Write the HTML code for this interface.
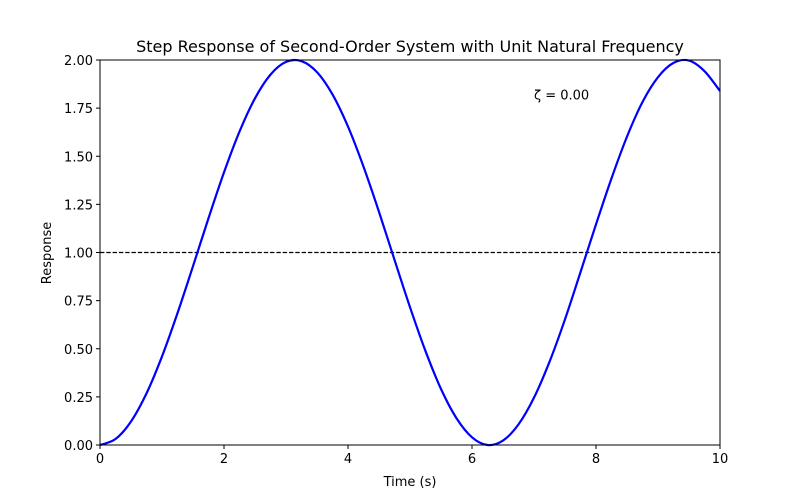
<!DOCTYPE html>
<html><head><meta charset="utf-8"><style>body{margin:0;background:#fff}svg{display:block;font-family:"DejaVu Sans","Liberation Sans",sans-serif}</style></head>
<body>
<svg id="chart" width="800" height="500" xmlns="http://www.w3.org/2000/svg">
<text x="410" y="52" font-size="16" text-anchor="middle">Step Response of Second-Order System with Unit Natural Frequency</text>
<g id="plot"></g>
</svg>
<script>
const timeValues=[0,0.25,0.5,0.75,1,1.25,1.5,1.75,2,2.25,2.5,2.75,3,3.25,3.5,3.75,4,4.25,4.5,4.75,5,5.25,5.5,5.75,6,6.25,6.5,6.75,7,7.25,7.5,7.75,8,8.25,8.5,8.75,9,9.25,9.5,9.75,10];
const responseValues=[0,0.031,0.122,0.268,0.460,0.685,0.929,1.178,1.416,1.628,1.801,1.924,1.990,1.994,1.937,1.821,1.654,1.446,1.211,0.962,0.716,0.488,0.291,0.139,0.040,0.000,0.023,0.107,0.246,0.432,0.653,0.898,1.146,1.385,1.602,1.782,1.911,1.985,1.997,1.942,1.839];
const xTicks=[0,2,4,6,8,10];
const yTicks=[0,0.25,0.5,0.75,1,1.25,1.5,1.75,2];
const referenceLevel=1;
const zetaLabel="ζ = 0.00";
const L=100,R=720,T=60,B=445,xMin=0,xMax=10,yMin=0,yMax=2;
const xs=v=>L+(v-xMin)/(xMax-xMin)*(R-L);
const ys=v=>B-(v-yMin)/(yMax-yMin)*(B-T);
const NS="http://www.w3.org/2000/svg";
const g=document.getElementById('plot');
function mk(tag,attrs){const e=document.createElementNS(NS,tag);for(const k in attrs)e.setAttribute(k,attrs[k]);g.appendChild(e);return e;}
let e=mk('line',{x1:L,x2:R,y1:ys(referenceLevel),y2:ys(referenceLevel),stroke:'#000','stroke-width':1.2,'stroke-dasharray':'4.4,1.9'});


const P=timeValues.map((t,i)=>[xs(t),ys(responseValues[i])]);
let d='M'+P[0][0]+','+P[0][1];
for(let i=0;i<P.length-1;i++){const p0=P[Math.max(0,i-1)],p1=P[i],p2=P[i+1],p3=P[Math.min(P.length-1,i+2)];
d+=' C'+(p1[0]+(p2[0]-p0[0])/6)+','+(p1[1]+(p2[1]-p0[1])/6)+' '+(p2[0]-(p3[0]-p1[0])/6)+','+(p2[1]-(p3[1]-p1[1])/6)+' '+p2[0]+','+p2[1];}
e=mk('path',{d:d,fill:'none',stroke:'#0000ff','stroke-width':2.2});


e=mk('rect',{x:L,y:T,width:R-L,height:B-T,fill:'none',stroke:'#000','stroke-width':1});


xTicks.forEach(v=>{const x=xs(v);
 let t=mk('line',{x1:x,x2:x,y1:B,y2:B+4,stroke:'#000'});
 
 
 t=mk('text',{x:x,y:B+18,'font-size':13,'text-anchor':'middle'});t.textContent=String(v);
 
 });
yTicks.forEach(v=>{const y=ys(v);
 let t=mk('line',{x1:L-4,x2:L,y1:y,y2:y,stroke:'#000'});
 
 
 t=mk('text',{x:L-7,y:y+5,'font-size':13,'text-anchor':'end'});t.textContent=v.toFixed(2);
 
 });
e=mk('text',{x:410,y:486,'font-size':13,'text-anchor':'middle'});e.textContent='Time (s)';


e=mk('text',{x:51,y:253,'font-size':13,'text-anchor':'middle',transform:'rotate(-90 51 253)'});e.textContent='Response';


e=mk('text',{x:xs(7),y:ys(1.8)+1,'font-size':13});e.textContent=zetaLabel;


</script>
</body></html>
